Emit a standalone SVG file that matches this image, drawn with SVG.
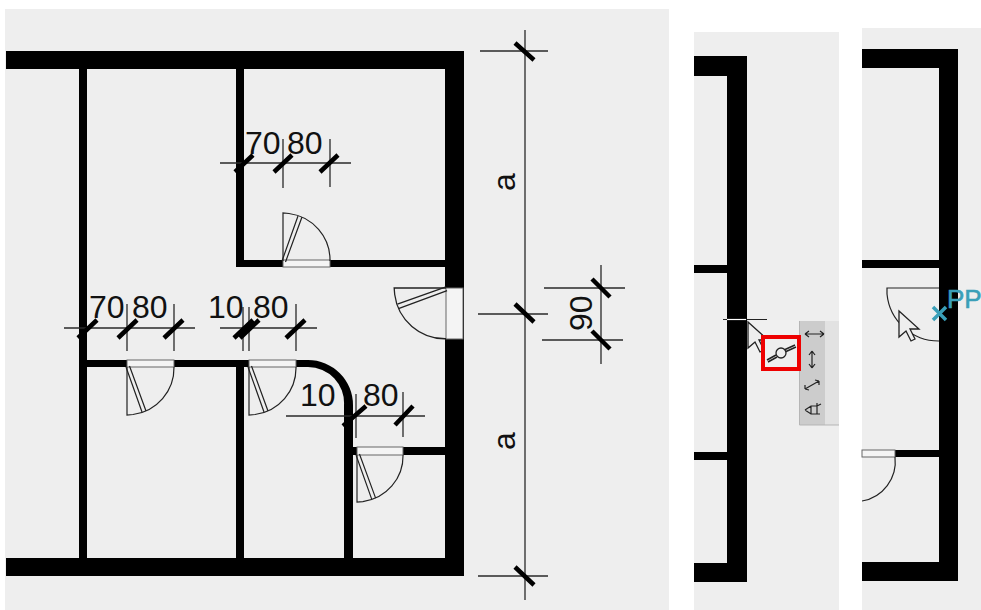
<svg xmlns="http://www.w3.org/2000/svg" xmlns:xlink="http://www.w3.org/1999/xlink" width="981" height="610" viewBox="0 0 981 610">
<style>
.panel{fill:#eeeeee}
.wall{fill:#000}
.thin{stroke:#222;stroke-width:1.2;fill:none}
.dim{stroke:#2a2a2a;stroke-width:1.3;fill:none}
.tick{stroke:#000;stroke-width:4.5;fill:none}
.leaf{stroke:#222;stroke-width:1.200;fill:none}
.t{font-family:"Liberation Sans",Arial,sans-serif;font-size:32px;fill:#111}
.strip{fill:#f4f4f4;stroke:#666;stroke-width:1}
</style>
<defs>
<g id="door">
<path d="M0 0V48L6 47.500A47 47 0 0 0 47 0" class="thin"/>
<path d="M-1 0L15 45M2.500 -1L19 44" class="leaf"/>
</g>
<path id="arrow" d="M0 0V26L7 20L12 30L16 28L11 18H20Z" fill="#eeeeee" stroke="#222" stroke-width="1.300"/>
</defs>
<rect width="981" height="610" fill="#fff"/>
<rect class="panel" x="5" y="9" width="664" height="601"/>
<rect class="panel" x="694" y="32" width="145" height="578"/>
<rect class="panel" x="862" y="28" width="119" height="582"/>

<g id="plan-walls">
<path class="wall" d="M6 51H464V576H6V558H445V339H463V288H445V69H6Z"/>
<rect class="wall" x="79" y="69" width="8" height="489"/>
<rect class="wall" x="236" y="69" width="8" height="198"/>
<rect class="wall" x="236" y="260" width="209" height="7"/>
<path class="wall" d="M87 360H308A45 45 0 0 1 353 405V558H344V405A36 36 0 0 0 308 367H244V558H236V367H87Z"/>
<rect class="wall" x="353" y="447" width="92" height="8"/>
</g>

<g id="plan-doors">
<rect class="strip" x="283" y="260" width="47" height="7"/>
<rect class="strip" x="127" y="360" width="47" height="7"/>
<rect class="strip" x="249" y="360" width="47" height="7"/>
<rect class="strip" x="357" y="447" width="46" height="8"/>
<rect class="strip" x="446" y="288" width="17" height="51"/>
<use xlink:href="#door" href="#door" transform="translate(283 261) scale(1 -1)"/>
<use xlink:href="#door" href="#door" transform="translate(127 367)"/>
<use xlink:href="#door" href="#door" transform="translate(249 367)"/>
<use xlink:href="#door" href="#door" transform="translate(357 455) scale(0.98 0.98)"/>
<use xlink:href="#door" href="#door" transform="translate(446 288) rotate(90) scale(1.080)"/>
</g>

<g id="connectors">
<path class="dim" d="M525 30V600M480 51H548M478 314H548M478 576H548"/>
<path class="tick" d="M515 43L534 60M515 304L534 322M515 567L534 585"/>
<path class="dim" d="M544 288H625M542 340H623M601 265V364"/>
<path class="tick" d="M592 279L610 297M592 331L610 349"/>
<path class="dim" d="M220 163H351M283 139V188M330 139V187"/>
<path class="tick" d="M235 172L253 155M274 172L292 155M320 172L338 155"/>
<path class="dim" d="M64 328H195M127 304V351M174 304V351"/>
<path class="tick" d="M78 338L97 320M118 338L137 320M164 338L183 320"/>
<path class="dim" d="M220 328H317M243 307V351M249 307V351M296 304V351"/>
<path class="tick" d="M234 338L253 320M240 338L259 320M286 338L305 320"/>
<path class="dim" d="M286 416H425M356 394V438M403 392V437"/>
<path class="tick" d="M343 426L366 406M395 425L413 406"/>
</g>

<g id="plan-labels">
<text class="t" x="245" y="154">70</text>
<text class="t" x="287" y="154">80</text>
<text class="t" x="89" y="318">70</text>
<text class="t" x="132" y="318">80</text>
<text class="t" x="208" y="318">10</text>
<text class="t" x="253" y="318">80</text>
<text class="t" x="300" y="406">10</text>
<text class="t" x="363" y="406">80</text>
<text class="t" transform="translate(515 191) rotate(-90)">a</text>
<text class="t" transform="translate(515 450) rotate(-90)">a</text>
<text class="t" transform="translate(592 331) rotate(-90)">90</text>
</g>

<g id="panel-2">
<path class="wall" d="M694 56H747V582H694V563H727V76H694Z"/>
<rect class="wall" x="694" y="265" width="33" height="8"/>
<rect class="wall" x="694" y="452" width="33" height="8"/>
<rect x="747" y="320" width="52" height="50" fill="#f0f0f0"/>
<path d="M723 319.500H767" stroke="#222" stroke-width="1.200"/>
<path d="M727 319.500H746" stroke="#fff" stroke-width="1.200"/>
<use xlink:href="#arrow" href="#arrow" transform="translate(748 322)"/>
</g>

<g id="toolbar">
<rect x="799" y="321" width="40" height="104" fill="#e2e2e2"/>
<rect x="800" y="321" width="25" height="104" fill="#cccccc"/>
<path d="M799.500 321V425H839" fill="none" stroke="#b5b5b5"/>
<rect x="763" y="337" width="36" height="32" fill="#eeeeee" stroke="#ee0000" stroke-width="4"/>
<path d="M767 360L776 355M784 350L795 345M768 362L777 357M785 352L796 347" stroke="#222" stroke-width="1.500" fill="none"/>
<circle cx="781" cy="353" r="5" fill="#eeeeee" stroke="#222" stroke-width="1.300"/>
<path d="M805 334H824M805 334L809 331M805 334L809 337M824 334L820 331M824 334L820 337" class="thin"/>
<path d="M812 351V368M812 351L809 355M812 351L815 355M812 368L809 364M812 368L815 364" class="thin"/>
<path d="M805 389L819 381M805 389V385M805 389L809 390M819 381L815 380M819 381V385" class="thin"/>
<path d="M805 410L811 406H817V403M817 406V414M805 410L811 414H820M811 406V414M817 406L821 404" class="thin"/>
</g>

<g id="panel-3">
<path class="wall" d="M862 49H958V581H862V562H939V68H862Z"/>
<rect class="wall" x="862" y="260" width="77" height="8"/>
<rect class="wall" x="862" y="450" width="77" height="7"/>
<rect class="strip" x="862" y="450" width="33" height="7"/>
<path class="thin" d="M939 288H887V294A52 52 0 0 0 939 341"/>
<path class="thin" d="M895 457A40 40 0 0 1 862 501"/>
<use xlink:href="#arrow" href="#arrow" transform="translate(899 311)"/>
<path d="M933 307L946 320M946 307L933 320" stroke="#3a9fb8" stroke-width="3.500" fill="none"/>
<text x="947" y="308" font-family="'Liberation Sans',Arial,sans-serif" font-size="26" fill="#3a9fb8" stroke="#3a9fb8" stroke-width="0.600">PP</text>
</g>
</svg>
